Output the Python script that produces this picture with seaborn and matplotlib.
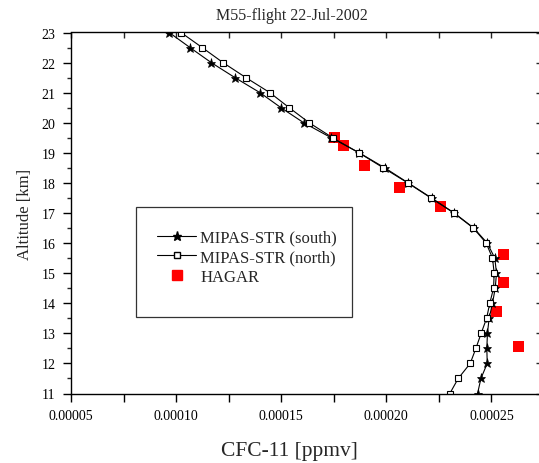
import matplotlib
matplotlib.use('Agg')
import matplotlib.pyplot as plt
import seaborn as sns
from matplotlib.patches import Rectangle
from matplotlib.lines import Line2D
from matplotlib.ticker import MultipleLocator, FormatStrFormatter

# altitude grid of the MIPAS-STR profiles [km]
altitude = [11.0, 11.5, 12.0, 12.5, 13.0, 13.5, 14.0, 14.5, 15.0, 15.5, 16.0, 16.5,
            17.0, 17.5, 18.0, 18.5, 19.0, 19.5, 20.0, 20.5, 21.0, 21.5, 22.0, 22.5, 23.0]

# CFC-11 [ppmv]
south = [0.0002434, 0.0002450, 0.0002480, 0.0002478, 0.0002481, 0.0002489, 0.0002505,
         0.0002518, 0.0002524, 0.0002516, 0.0002480, 0.0002416, 0.0002323, 0.0002215,
         0.0002104, 0.0001993, 0.0001871, 0.0001738, 0.0001607, 0.0001499, 0.0001399,
         0.0001280, 0.0001167, 0.0001066, 0.0000967]
north = [0.0002302, 0.0002342, 0.0002399, 0.0002426, 0.0002451, 0.0002477, 0.0002492,
         0.0002510, 0.0002513, 0.0002505, 0.0002475, 0.0002414, 0.0002321, 0.0002212,
         0.0002102, 0.0001986, 0.0001870, 0.0001745, 0.0001633, 0.0001538, 0.0001446,
         0.0001332, 0.0001223, 0.0001124, 0.0001023]

hagar_cfc = [0.0001755, 0.0001798, 0.0001895, 0.0002064, 0.0002258, 0.0002556,
             0.0002556, 0.0002524, 0.0002627]
hagar_alt = [19.50, 19.23, 18.58, 17.86, 17.22, 15.62, 14.68, 13.72, 12.57]

sns.set_theme(style='ticks')
plt.rcParams['font.family'] = ['Liberation Serif', 'DejaVu Serif']
plt.rcParams['axes.edgecolor'] = 'black'
plt.rcParams['axes.linewidth'] = 1.0

fig = plt.figure(figsize=(5.39, 4.64), dpi=100)
W, H = 539, 464
ax_l, ax_r, ax_t, ax_b = 71, 544, 33.5, 394.5
ax = fig.add_axes([ax_l / W, 1 - ax_b / H, (ax_r - ax_l) / W, (ax_b - ax_t) / H])

sns.lineplot(x=south, y=altitude, sort=False, estimator=None, color='black',
             lw=0.8, marker='*', markersize=6.5, markeredgewidth=0.5,
             markeredgecolor='black', markerfacecolor='black', ax=ax)
sns.lineplot(x=north, y=altitude, sort=False, estimator=None, color='black',
             lw=0.8, marker='s', markersize=4.2, markeredgewidth=0.8,
             markeredgecolor='black', markerfacecolor='white', ax=ax)
sns.scatterplot(x=hagar_cfc, y=hagar_alt, marker='s', s=62, color='#ff0000',
                edgecolor='none', ax=ax, zorder=1)

ax.set_xlim(0.00005, 0.000275)
ax.set_ylim(11, 23)
ax.xaxis.set_major_locator(MultipleLocator(0.00005))
ax.xaxis.set_minor_locator(MultipleLocator(0.000025))
ax.xaxis.set_major_formatter(FormatStrFormatter('%.5f'))
ax.yaxis.set_major_locator(MultipleLocator(1))
ax.yaxis.set_minor_locator(MultipleLocator(0.5))
ax.yaxis.set_major_formatter(FormatStrFormatter('%d'))

ax.tick_params(axis='x', which='both', direction='out', length=6, width=1,
               labelsize=10, pad=5, colors='black')
ax.tick_params(axis='y', which='major', direction='out', length=6, width=1,
               labelsize=10, pad=5, colors='black')
ax.tick_params(axis='y', which='minor', direction='out', length=3, width=1)
ax.spines['top'].set_visible(False)
ax.spines['right'].set_visible(False)

# mirrored ticks pointing inwards on top and right
top = ax.secondary_xaxis('top')
top.xaxis.set_major_locator(MultipleLocator(0.000025))
top.spines['top'].set_linewidth(1.0)
top.tick_params(direction='in', length=4.5, width=1, labelsize=0, labeltop=False)
right = ax.secondary_yaxis('right')
right.yaxis.set_major_locator(MultipleLocator(1))
right.yaxis.set_minor_locator(MultipleLocator(0.5))
right.tick_params(which='major', direction='in', length=5.5, width=1, labelright=False)
right.tick_params(which='minor', direction='in', length=3, width=1)

ax.set_xlabel('')
ax.set_ylabel('Altitude [km]', fontsize=12, labelpad=6)

fig.text(292 / W, 1 - 16 / H, 'M55-flight 22-Jul-2002', ha='center', va='center',
         fontsize=11.5)
fig.text(289 / W, 1 - 452 / H, 'CFC-11 [ppmv]', ha='center', va='center',
         fontsize=15.5)

# legend with an oversized frame drawn separately
ax.add_patch(Rectangle((0.1374, 0.2119), 0.4566, 0.3039, transform=ax.transAxes,
                       fill=False, edgecolor='#333333', lw=0.9, zorder=5))
handles = [
    Line2D([], [], color='black', lw=0.8, marker='*', markersize=6.5,
           markerfacecolor='black', markeredgecolor='black'),
    Line2D([], [], color='black', lw=0.8, marker='s', markersize=4.2,
           markerfacecolor='white', markeredgecolor='black'),
    Line2D([], [], lw=0, marker='s', markersize=7.5, color='#ff0000'),
]
ax.legend(handles, ['MIPAS-STR (south)', 'MIPAS-STR (north)', 'HAGAR'],
          loc='upper left', bbox_to_anchor=(0.1818, 0.454), borderaxespad=0,
          borderpad=0, frameon=False, fontsize=12, handlelength=2.35,
          handletextpad=0.25, labelspacing=0.22)

plt.savefig('out.png', dpi=100)
plt.close()
